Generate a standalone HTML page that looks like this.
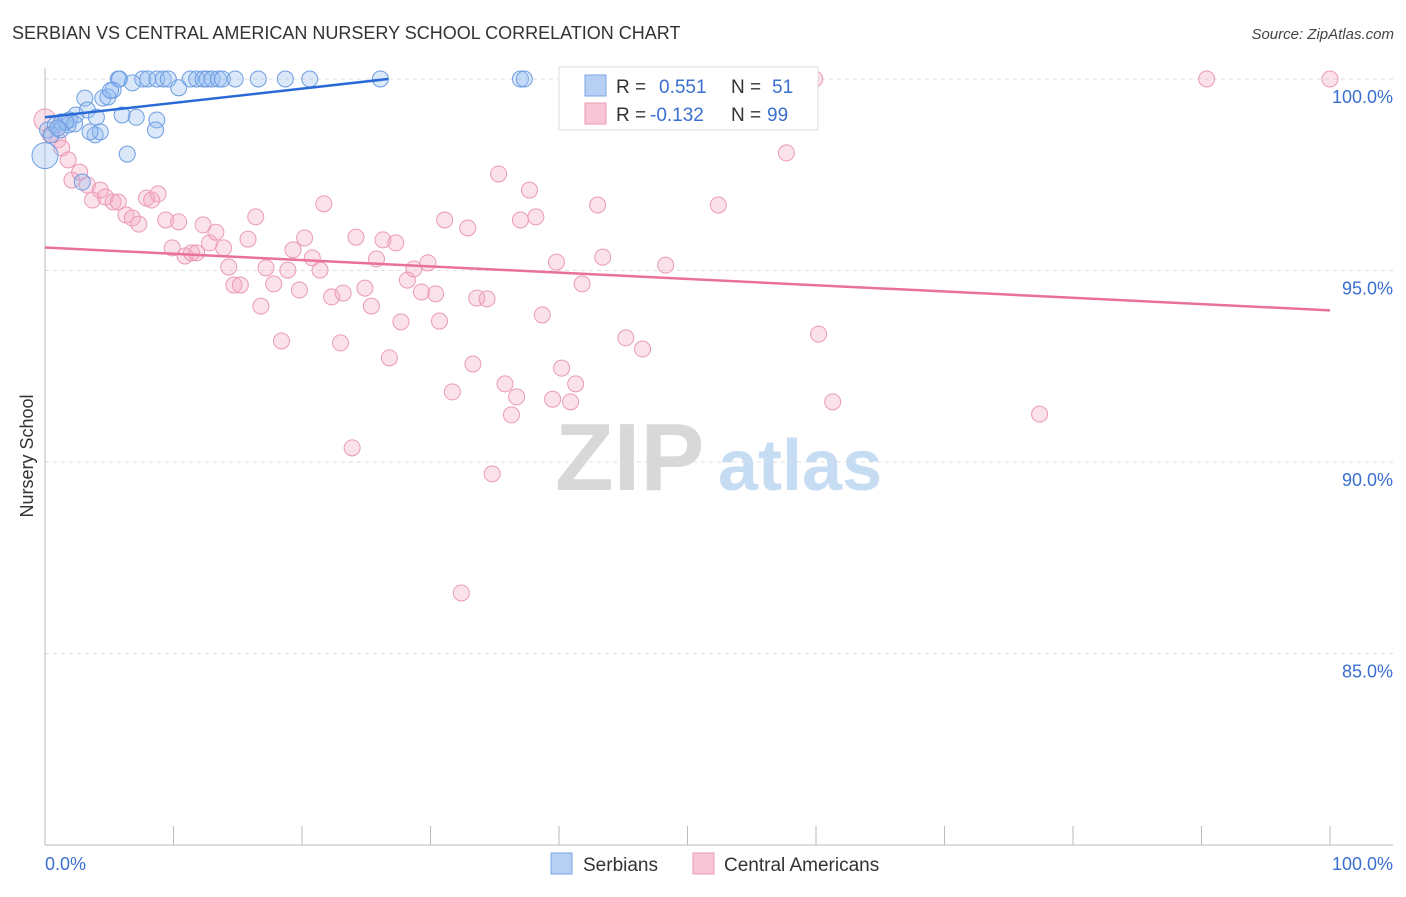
<!DOCTYPE html>
<html><head><meta charset="utf-8"><style>
body{margin:0;background:#fff;font-family:"Liberation Sans",sans-serif}
svg text{font-family:"Liberation Sans",sans-serif}
</style></head><body>
<svg id="chart" width="1406" height="892" viewBox="0 0 1406 892" xmlns="http://www.w3.org/2000/svg">
<text x="12" y="39" font-size="18" fill="#333">SERBIAN VS CENTRAL AMERICAN NURSERY SCHOOL CORRELATION CHART</text>
<text x="1394" y="39" font-size="15" fill="#444" text-anchor="end" font-style="italic">Source: ZipAtlas.com</text>
<g>
<text x="555" y="490" font-size="96" fill="#d8d8d8" font-family="Liberation Serif" font-weight="bold">ZIP</text>
<text x="718" y="490" font-size="72" fill="#c6dcf2" font-weight="bold">atlas</text>
</g>
<g id="grid"></g>
<g id="axes"></g>
<g id="marks"></g>
<text x="0" y="0" transform="translate(33,456) rotate(-90)" font-size="18" fill="#333" text-anchor="middle">Nursery School</text>
<g>
<rect x="559" y="67" width="259" height="63" fill="#fff" stroke="#ddd"/>
<rect x="585" y="75" width="21" height="21" fill="#b5d0f3" stroke="#7aa6e6"/>
<rect x="585" y="103" width="21" height="21" fill="#f8c6d6" stroke="#ec9ab6"/>
<text x="616" y="93" font-size="19" fill="#333">R = </text><text x="659" y="93" font-size="19" fill="#3a6fd0">0.551</text>
<text x="731" y="93" font-size="19" fill="#333">N = </text><text x="772" y="93" font-size="19" fill="#3a6fd0">51</text>
<text x="616" y="121" font-size="19" fill="#333">R = </text><text x="650" y="121" font-size="19" fill="#3a6fd0">-0.132</text>
<text x="731" y="121" font-size="19" fill="#333">N = </text><text x="767" y="121" font-size="19" fill="#3a6fd0">99</text>
</g>
<g>
<rect x="551" y="853" width="21" height="21" fill="#b5d0f3" stroke="#7aa6e6"/>
<text x="583" y="871" font-size="19" fill="#333">Serbians</text>
<rect x="693" y="853" width="21" height="21" fill="#f8c6d6" stroke="#ec9ab6"/>
<text x="724" y="871" font-size="19" fill="#333">Central Americans</text>
</g>
</svg>
<script>
const blueX=[5.7,5.8,7.6,8.0,8.7,9.2,9.6,11.3,11.8,12.3,12.6,13.0,13.5,13.8,14.8,16.6,18.7,20.6,26.1,37.0,37.3,6.8,10.4,5.3,3.1,4.5,4.9,5.1,3.3,2.4,4.0,6.0,7.1,8.7,0.2,0.8,1.3,1.8,1.9,3.9,4.3,3.5,8.6,6.4,2.9,0,0.5,1.2,2.3,1.6,1.0];
const blueY=[100,100,100,100,100,100,100,100,100,100,100,100,100,100,100,100,100,100,100,100,100,99.9,99.77,99.71,99.5,99.5,99.53,99.7,99.19,99.06,99.0,99.06,99.0,98.93,98.67,98.8,98.88,98.8,98.93,98.54,98.62,98.62,98.67,98.04,97.31,98.0,98.54,98.67,98.83,98.88,98.72];
const pinkX=[0,0.4,1.0,1.3,1.8,2.1,2.7,3.3,3.7,4.3,4.7,5.3,5.7,6.3,6.8,7.3,7.9,8.3,8.8,9.4,9.9,10.4,10.9,11.4,11.8,12.3,12.8,13.3,13.9,14.3,14.7,15.2,15.8,16.4,16.8,17.2,17.8,18.4,18.9,19.3,19.8,20.2,20.8,21.4,21.7,22.3,23.0,23.2,23.9,24.2,24.9,25.4,25.8,26.3,26.8,27.3,27.7,28.2,28.7,29.3,29.8,30.4,30.7,31.1,31.7,32.4,32.9,33.3,33.6,34.4,34.8,35.3,35.8,36.3,36.7,37.0,37.7,38.2,38.7,39.5,39.8,40.2,40.9,41.3,41.8,43.0,43.4,45.2,46.5,48.3,49.1,47.1,52.4,57.7,59.9,60.2,61.3,77.4,90.4,100];
const pinkY=[98.93,98.54,98.41,98.2,97.89,97.36,97.57,97.23,96.84,97.1,96.92,96.79,96.79,96.45,96.37,96.21,96.89,96.84,97.0,96.32,95.59,96.27,95.38,95.46,95.46,96.19,95.72,96.0,95.59,95.09,94.62,94.62,95.82,96.4,94.07,95.07,94.65,93.16,95.01,95.54,94.49,95.85,95.33,95.01,96.74,94.31,93.11,94.41,90.37,95.87,94.54,94.07,95.3,95.8,92.72,95.72,93.66,94.75,95.04,94.44,95.2,94.39,93.68,96.32,91.83,86.58,96.11,92.56,94.28,94.26,89.69,97.52,92.04,91.23,91.7,96.32,97.1,96.4,93.84,91.64,95.22,92.45,91.57,92.04,94.65,96.71,95.35,93.24,92.95,95.14,100,99.24,96.71,98.07,100,93.34,91.57,91.25,100,100];
const blueTrendX=[0,26.7], blueTrendY=[99.0,100];
const pinkTrendX=[0,100], pinkTrendY=[95.6,93.96];
const yTicks=[100,95,90,85];
const yTickLabels=["100.0%","95.0%","90.0%","85.0%"];
const NS="http://www.w3.org/2000/svg";
const sx=v=>45+v*12.85, sy=v=>79+(100-v)*38.3;
function mk(t,a,p){const e=document.createElementNS(NS,t);for(const k in a)e.setAttribute(k,a[k]);p.appendChild(e);return e;}
const grid=document.getElementById('grid'),axes=document.getElementById('axes'),marks=document.getElementById('marks');
yTicks.forEach((v,i)=>{
 const l=mk('line',{x1:45,x2:1393,y1:sy(v),y2:sy(v),stroke:'#ddd','stroke-dasharray':'4,4'},grid);
 
 
 const t=mk('text',{x:1393,y:sy(v)+24,'font-size':18,fill:'#3a6fd0','text-anchor':'end'},axes);
 t.textContent=yTickLabels[i];
 
 
});
let a=mk('line',{x1:45,x2:45,y1:68,y2:845,stroke:'#bbb'},axes);


a=mk('line',{x1:45,x2:1393,y1:845,y2:845,stroke:'#bbb'},axes);


for(let i=0;i<=10;i++){const t=mk('line',{x1:sx(i*10),x2:sx(i*10),y1:826,y2:845,stroke:'#bbb'},axes);
 
 }
let xl=mk('text',{x:45,y:870,'font-size':18,fill:'#3a6fd0'},axes);xl.textContent='0.0%';


xl=mk('text',{x:1393,y:870,'font-size':18,fill:'#3a6fd0','text-anchor':'end'},axes);xl.textContent='100.0%';


pinkX.forEach((x,i)=>{const c=mk('circle',{cx:sx(x),cy:sy(pinkY[i]),r:(i==0?11:8),fill:'rgba(244,170,196,0.35)',stroke:'#eb9ab6','stroke-width':1},marks);
 
 });
blueX.forEach((x,i)=>{const c=mk('circle',{cx:sx(x),cy:sy(blueY[i]),r:(i==45?13:8),fill:'rgba(150,190,240,0.35)',stroke:'#6d9de2','stroke-width':1},marks);
 
 });
let tl=mk('line',{x1:sx(blueTrendX[0]),y1:sy(blueTrendY[0]),x2:sx(blueTrendX[1]),y2:sy(blueTrendY[1]),stroke:'#2a6ad6','stroke-width':2.5},marks);


tl=mk('line',{x1:sx(pinkTrendX[0]),y1:sy(pinkTrendY[0]),x2:sx(pinkTrendX[1]),y2:sy(pinkTrendY[1]),stroke:'#e8709a','stroke-width':2.5},marks);


</script>
</body></html>
